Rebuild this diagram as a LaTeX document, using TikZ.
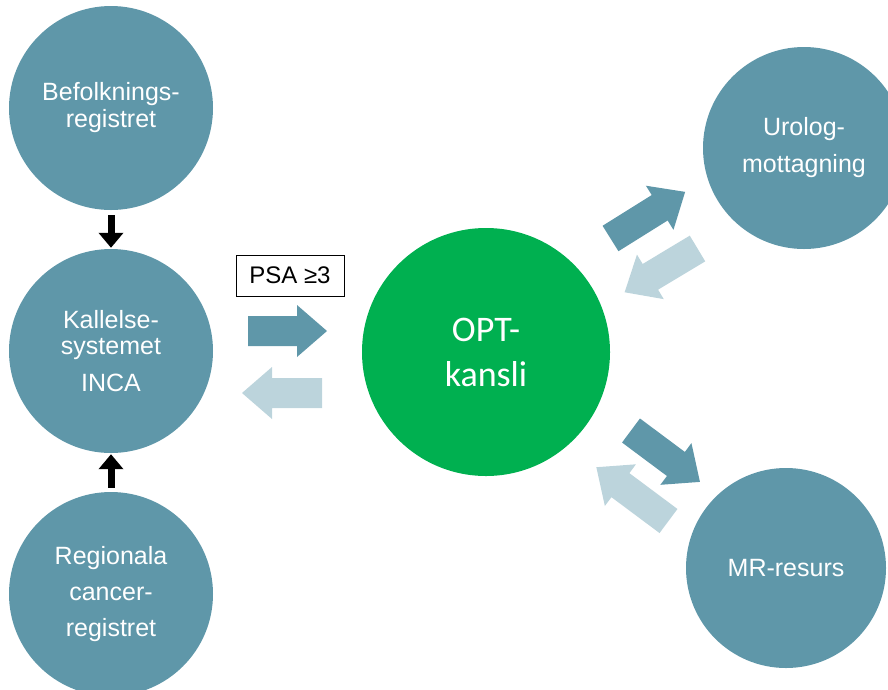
\documentclass[tikz,border=0pt]{standalone}
\usepackage{fontspec}
\setmainfont{Liberation Sans}
\newfontfamily\calibri{Carlito}
\usetikzlibrary{arrows.meta}

\definecolor{cBlue}{HTML}{5F97A9}
\definecolor{cLight}{HTML}{BCD4DC}
\definecolor{cGreen}{HTML}{00B050}

% block arrow: tail centre, angle, length, colour
\newcommand{\blockarrow}[4]{%
	\fill[#4, shift={#1}, rotate=#2] (0,-15) -- (#3-30,-15) -- (#3-30,-26) -- (#3,0)
		-- (#3-30,26) -- (#3-30,15) -- (0,15) -- cycle;}

\tikzset{
	unit/.style={circle, fill=cBlue, text=white, minimum size=204pt, inner sep=0pt,
		align=center, font=\fontsize{25}{27}\selectfont},
	feed/.style={line width=7pt, -{Triangle[width=24pt,length=15pt]}},
}

\begin{document}
\begin{tikzpicture}[x=1pt,y=-1pt]
	\useasboundingbox (0,0) rectangle (888,689);
	\clip (0,0) rectangle (888,689);

	% REGISTERS
	\node[unit] (bef) at (111,108) {Befolknings-\\[0pt]registret};
	\node[unit] (kal) at (111,351) {Kallelse-\\[-1pt]systemet\\[10pt]INCA};
	\node[unit] (reg) at (111,594) {Regionala\\[9pt]cancer-\\[9pt]registret};
	\draw[feed, shorten <=5pt, shorten >=1pt] (bef) -- (kal);
	\draw[feed, shorten <=4pt, shorten >=1pt] (reg) -- (kal);

	% OPT
	\node[unit, fill=cGreen, minimum size=248pt, font=\calibri\fontsize{36}{45}\selectfont] (opt) at (486,352) {OPT-\\kansli};
	\node[draw, line width=0.8pt, minimum width=108pt, minimum height=41pt, inner sep=0pt,
		font=\fontsize{24}{27}\selectfont] (psa) at (290,275.5) {PSA ≥3};
	\blockarrow{(248,331)}{0}{79}{cBlue}
	\blockarrow{(322,393)}{180}{80}{cLight}

	% UROLOG + MR
	\node[unit, minimum size=202pt] (uro) at (804,148) {Urolog-\\[10pt]mottagning};
	\node[unit, minimum size=200pt] (mr) at (786,568) {MR-resurs};
	\blockarrow{(610.5,238.5)}{32}{88}{cBlue}
	\blockarrow{(697.5,248.5)}{211}{85}{cLight}
	\blockarrow{(631,430.5)}{-36.7}{86}{cBlue}
	\blockarrow{(668.5,521)}{143.3}{90}{cLight}
\end{tikzpicture}
\end{document}
